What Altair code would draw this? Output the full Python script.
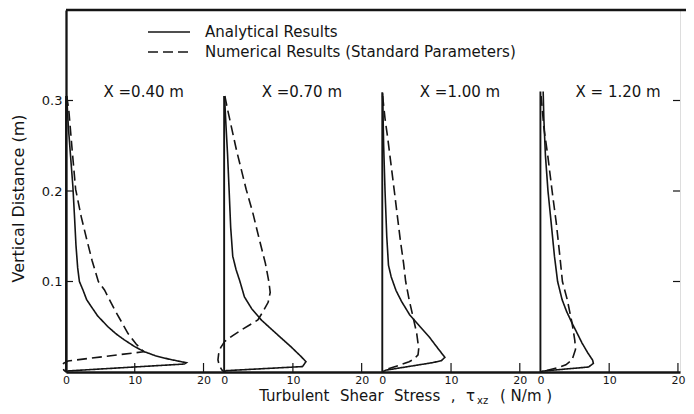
import altair as alt
import pandas as pd

# ---------------- data ----------------
stations = ["X =0.40 m", "X =0.70 m", "X =1.00 m", "X = 1.20 m"]
panel_offset = [0, 23, 46, 69]          # each panel's zero on the shared stress axis
zero_line_top = [0.305, 0.305, 0.309, 0.31]
panel_ticks = [0, 10, 20]
y_ticks = [0.1, 0.2, 0.3]
series_names = ["Analytical Results", "Numerical Results (Standard Parameters)"]

# X = 0.40 m
p1_ana_tau = [0.1, 0.35, 0.7, 1.0, 1.25, 1.45, 1.7, 1.95, 2.5, 3.0, 3.7, 4.6, 6.1, 7.3, 8.5, 10.0, 11.4, 13.0, 14.8, 16.5, 17.5, 17.2, 0.3, 0.0]
p1_ana_z = [0.305, 0.27, 0.235, 0.205, 0.17, 0.14, 0.115, 0.1, 0.09, 0.08, 0.072, 0.062, 0.05, 0.042, 0.0354, 0.028, 0.0224, 0.018, 0.0145, 0.0118, 0.0103, 0.0088, 0.0012, 0.0]
p1_num_tau = [0.1, 0.4, 0.9, 1.4, 2.2, 3.0, 3.8, 4.7, 5.6, 7.1, 8.1, 9.0, 10.2, 11.3, 0.3, -0.35, -0.5, -0.3, 0.0]
p1_num_z = [0.305, 0.29, 0.245, 0.202, 0.172, 0.147, 0.123, 0.1, 0.0906, 0.0685, 0.055, 0.0427, 0.031, 0.0224, 0.0122, 0.0095, 0.006, 0.002, 0.0]

# X = 0.70 m
p2_ana_tau = [0.05, 0.25, 0.5, 0.73, 0.95, 1.25, 1.74, 2.3, 2.95, 4.0, 5.4, 7.5, 9.7, 11.2, 11.9, 11.4, 0.3, 0.0]
p2_ana_z = [0.305, 0.275, 0.24, 0.2, 0.16, 0.128, 0.113, 0.1, 0.083, 0.07, 0.0575, 0.043, 0.028, 0.017, 0.0114, 0.006, 0.0015, 0.0]
p2_num_tau = [0.1, 0.5, 1.8, 3.2, 4.2, 5.1, 6.0, 6.5, 6.7, 6.4, 5.6, 4.9, 3.7, 2.5, 1.2, 0.05, -0.5, -0.8, -0.9, -0.7, -0.3, 0.0]
p2_num_z = [0.305, 0.29, 0.245, 0.202, 0.175, 0.147, 0.12, 0.1, 0.088, 0.077, 0.066, 0.0575, 0.052, 0.0464, 0.04, 0.0335, 0.027, 0.02, 0.0133, 0.007, 0.002, 0.0]

# X = 1.00 m
p3_ana_tau = [0.05, 0.2, 0.4, 0.65, 0.9, 1.3, 2.0, 2.8, 4.0, 5.5, 6.8, 8.0, 9.1, 8.6, 7.3, 0.5, 0.0]
p3_ana_z = [0.308, 0.25, 0.2, 0.15, 0.118, 0.105, 0.09, 0.078, 0.063, 0.05, 0.039, 0.027, 0.0162, 0.0125, 0.0103, 0.002, 0.0]
p3_num_tau = [0.05, 0.4, 0.8, 1.75, 2.6, 3.1, 3.4, 3.9, 4.35, 5.0, 5.3, 5.2, 4.6, 3.9, 2.5, 1.0, 0.0]
p3_num_z = [0.305, 0.28, 0.258, 0.2, 0.147, 0.12, 0.1, 0.08, 0.065, 0.043, 0.026, 0.019, 0.014, 0.0114, 0.0075, 0.004, 0.0]

# X = 1.20 m
p4_ana_tau = [0.4, 0.5, 0.73, 1.1, 1.56, 2.04, 2.5, 3.15, 3.8, 4.6, 5.4, 6.05, 6.9, 7.6, 7.7, 7.0, 0.3, 0.0]
p4_ana_z = [0.31, 0.28, 0.239, 0.2, 0.165, 0.128, 0.1, 0.08, 0.067, 0.054, 0.042, 0.032, 0.021, 0.013, 0.0095, 0.0055, 0.001, 0.0]
p4_num_tau = [0.1, 0.5, 1.07, 1.7, 2.3, 2.8, 3.2, 3.9, 4.6, 5.0, 5.1, 4.6, 3.7, 2.65, 0.0]
p4_num_z = [0.305, 0.27, 0.239, 0.2, 0.165, 0.13, 0.1, 0.08, 0.054, 0.035, 0.025, 0.0133, 0.008, 0.005, 0.0]

# ---------------- tables built from the arrays ----------------
curves_in = [
    (p1_ana_tau, p1_ana_z, p1_num_tau, p1_num_z),
    (p2_ana_tau, p2_ana_z, p2_num_tau, p2_num_z),
    (p3_ana_tau, p3_ana_z, p3_num_tau, p3_num_z),
    (p4_ana_tau, p4_ana_z, p4_num_tau, p4_num_z),
]
rows = []
for i, (ta, za, tn, zn) in enumerate(curves_in):
    for s, (tt, zz) in enumerate([(ta, za), (tn, zn)]):
        for k, (t, z) in enumerate(zip(tt, zz)):
            rows.append({"key": f"{i}-{s}", "series": series_names[s], "order": k,
                         "xpos": t + panel_offset[i], "z": z})
df = pd.DataFrame(rows)

zero_df = pd.DataFrame({"xpos": panel_offset, "z0": [0.0] * 4, "z1": zero_line_top})
tick_pos = [off + t for off in panel_offset for t in panel_ticks]
xt_df = pd.DataFrame({"xpos": [off + t for off in panel_offset for t in panel_ticks if t > 0]})
yt_df = pd.DataFrame({"v": y_ticks})
lab_df = pd.DataFrame({"label": stations, "xpos": [o + 11.3 for o in panel_offset], "z": [0.304] * 4})
one = pd.DataFrame({"a": [0]})

# ---------------- styling ----------------
INK = "#141414"
FONT = "DejaVu Sans"
W, H = 614, 362
SP = "\u2002\u2009"

x_scale = alt.Scale(domain=[0, 89.3], nice=False, zero=False)
y_scale = alt.Scale(domain=[0, 0.4], nice=False)

x_axis = alt.Axis(values=tick_pos, labelExpr="datum.value % 23", ticks=False, grid=False,
                  domainColor=INK, domainWidth=2.6, labelFont=FONT, labelFontSize=11,
                  labelColor=INK, labelPadding=2, labelOverlap=False, labelFlush=False, title=None)
y_axis = alt.Axis(values=y_ticks, format=".1f", ticks=False, grid=False, domainColor=INK,
                  domainWidth=2.3, labelFont=FONT, labelFontSize=13, labelColor=INK, labelPadding=4,
                  title="Vertical Distance (m)", titleFont=FONT, titleFontSize=16,
                  titleFontWeight="normal", titleColor=INK, titleX=-40, titleY=188)

X = alt.X("xpos:Q", scale=x_scale, axis=x_axis)
Y = alt.Y("z:Q", scale=y_scale, axis=y_axis)

curves = alt.Chart(df).mark_line(color=INK, strokeWidth=1.6).encode(
    x=X, y=Y, detail="key:N", order="order:Q",
    strokeDash=alt.StrokeDash("series:N", scale=alt.Scale(domain=series_names, range=[[1, 0], [10, 5]]), legend=None),
)

zero_lines = alt.Chart(zero_df).mark_rule(color=INK, strokeWidth=1.9).encode(
    x=alt.X("xpos:Q"), y=alt.Y("z0:Q"), y2="z1:Q")

x_ticks = alt.Chart(xt_df).mark_rule(color=INK, strokeWidth=1.2).encode(
    x=alt.X("xpos:Q"), y=alt.value(H), y2=alt.value(H - 9))

y_ticks_left = alt.Chart(yt_df).mark_rule(color=INK, strokeWidth=1.2).encode(
    y=alt.Y("v:Q"), x=alt.value(0), x2=alt.value(7))
y_ticks_right = alt.Chart(yt_df).mark_rule(color=INK, strokeWidth=1.2).encode(
    y=alt.Y("v:Q"), x=alt.value(W), x2=alt.value(W - 7))

top_line = alt.Chart(one).mark_rule(color=INK, strokeWidth=2.6).encode(
    y=alt.value(0), x=alt.value(0), x2=alt.value(W + 6))

labels = alt.Chart(lab_df).mark_text(font=FONT, fontSize=15, color=INK, align="center",
                                     baseline="alphabetic").encode(
    x=alt.X("xpos:Q"), y=alt.Y("z:Q"), text="label:N")

leg_solid = alt.Chart(one).mark_rule(color=INK, strokeWidth=1.6).encode(
    x=alt.value(82), x2=alt.value(124), y=alt.value(22))
leg_dash = alt.Chart(one).mark_rule(color=INK, strokeWidth=1.6, strokeDash=[10, 5]).encode(
    x=alt.value(82), x2=alt.value(124), y=alt.value(42))
leg_t1 = alt.Chart(one).mark_text(font=FONT, fontSize=15, color=INK, align="left", baseline="middle").encode(
    x=alt.value(139), y=alt.value(22), text=alt.value(series_names[0]))
leg_t2 = alt.Chart(one).mark_text(font=FONT, fontSize=15, color=INK, align="left", baseline="middle").encode(
    x=alt.value(139), y=alt.value(42), text=alt.value(series_names[1]))

xt1 = alt.Chart(one).mark_text(font=FONT, fontSize=15, color=INK, align="right", baseline="alphabetic").encode(
    x=alt.value(409), y=alt.value(391), text=alt.value(f"Turbulent{SP}Shear{SP}Stress{SP},{SP}τ"))
xt2 = alt.Chart(one).mark_text(font=FONT, fontSize=10, color=INK, align="left", baseline="alphabetic").encode(
    x=alt.value(411), y=alt.value(393.5), text=alt.value("xz"))
xt3 = alt.Chart(one).mark_text(font=FONT, fontSize=15, color=INK, align="left", baseline="alphabetic").encode(
    x=alt.value(434), y=alt.value(391), text=alt.value("( N/m )"))

chart = alt.layer(
    curves, zero_lines, x_ticks, y_ticks_left, y_ticks_right, top_line, labels,
    leg_solid, leg_dash, leg_t1, leg_t2, xt1, xt2, xt3,
).properties(
    width=W, height=H,
    autosize=alt.AutoSizeParams(type="none"),
    padding={"left": 58, "top": 2, "right": 6, "bottom": 34},
).configure_view(stroke=None).configure(background="white")

chart.save("out.html", embed_options={"renderer": "svg", "actions": False})
